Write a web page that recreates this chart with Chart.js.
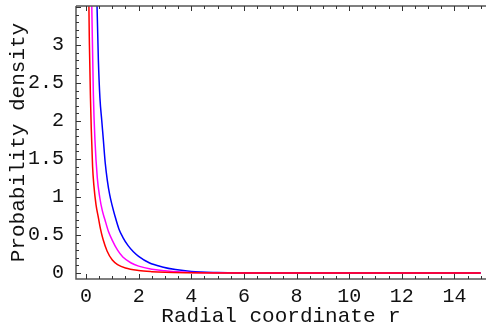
<!DOCTYPE html>
<html>
<head>
<meta charset="utf-8">
<script src="https://cdn.jsdelivr.net/npm/chart.js@4/dist/chart.umd.min.js"></script>
<style>
  html, body { margin: 0; padding: 0; background: #fff; }
  #wrap { width: 486px; height: 331px; }
</style>
</head>
<body>
<div id="wrap"><canvas id="c"></canvas></div>
<script>
// values (r, density)
const redR  = [0.06, 0.10, 0.13, 0.17, 0.20, 0.25, 0.30, 0.38, 0.47, 0.55, 0.65, 0.80, 1.00, 1.20, 1.50, 2.00, 2.50, 3.00, 4.00, 5.00, 6.00, 15];
const redY  = [6.0, 3.8, 3.0, 2.3, 1.9, 1.4, 1.15, 0.9, 0.73, 0.58, 0.44, 0.29, 0.17, 0.11, 0.065, 0.033, 0.018, 0.01, 0.004, 0.001, 0, 0];

const magR  = [0.15, 0.20, 0.23, 0.28, 0.34, 0.43, 0.52, 0.62, 0.72, 0.85, 1.00, 1.20, 1.40, 1.70, 2.00, 2.50, 3.00, 3.50, 4.00, 5.00, 6.00, 15];
const magY  = [6.0, 4.0, 3.3, 2.35, 1.75, 1.25, 1.0, 0.82, 0.7, 0.55, 0.43, 0.3, 0.21, 0.135, 0.09, 0.05, 0.03, 0.015, 0.008, 0.002, 0, 0];

const blueR = [0.33, 0.38, 0.42, 0.47, 0.53, 0.60, 0.66, 0.73, 0.81, 0.90, 1.00, 1.10, 1.25, 1.40, 1.60, 1.80, 2.00, 2.40, 2.90, 3.40, 4.00, 5.00, 6.00, 7.00, 15];
const blueY = [6.0, 4.3, 3.5, 2.8, 2.3, 2.0, 1.75, 1.45, 1.22, 1.03, 0.88, 0.75, 0.58, 0.47, 0.36, 0.28, 0.22, 0.135, 0.08, 0.045, 0.02, 0.006, 0.001, 0, 0];

const xTicks = [0, 2, 4, 6, 8, 10, 12, 14];
const yTicks = [0, 0.5, 1, 1.5, 2, 2.5, 3];

function pts(rs, ys) {
    return rs.map((r, i) => ({ x: r, y: ys[i] }));
}

const mono = "'Liberation Mono', 'Courier New', monospace";

// Mathematica style frame: left, bottom and top, ticks pointing inside
const framePlugin = {
    id: 'frame',
    afterDatasetsDraw(chart) {
        const { ctx, chartArea: a, scales: { x, y } } = chart;
        ctx.save();
        ctx.strokeStyle = '#555';
        ctx.lineWidth = 1.5;
        ctx.beginPath();
        ctx.moveTo(a.left, a.top);
        ctx.lineTo(a.right, a.top);
        ctx.moveTo(a.left, a.top);
        ctx.lineTo(a.left, a.bottom);
        ctx.lineTo(a.right, a.bottom);
        ctx.stroke();

        ctx.lineWidth = 1;
        ctx.strokeStyle = '#333';
        ctx.beginPath();
        for (let i = 0; i <= 30; i++) {
            const v = i * 0.5;
            const px = Math.round(x.getPixelForValue(v)) + 0.5;
            const len = i % 4 === 0 ? 5 : 3;
            ctx.moveTo(px, a.bottom);
            ctx.lineTo(px, a.bottom - len);
            ctx.moveTo(px, a.top);
            ctx.lineTo(px, a.top + len);
        }
        for (let i = 0; i <= 35; i++) {
            const v = i * 0.1;
            const py = Math.round(y.getPixelForValue(v)) + 0.5;
            const len = i % 5 === 0 ? 5 : 3;
            ctx.moveTo(a.left, py);
            ctx.lineTo(a.left + len, py);
        }
        ctx.stroke();
        ctx.restore();
    }
};

new Chart(document.getElementById('c'), {
    type: 'scatter',
    data: {
        datasets: [
            { label: 'red', data: pts(redR, redY), borderColor: '#ff0000' },
            { label: 'magenta', data: pts(magR, magY), borderColor: '#ff00ff' },
            { label: 'blue', data: pts(blueR, blueY), borderColor: '#0000ff' }
        ]
    },
    options: {
        responsive: true,
        maintainAspectRatio: false,
        animation: false,
        layout: { padding: { top: 6, right: 0, left: 0, bottom: 0 } },
        datasets: {
            scatter: {
                showLine: true,
                pointRadius: 0,
                borderWidth: 1.5,
                cubicInterpolationMode: 'monotone',
                clip: 0
            }
        },
        plugins: { legend: { display: false }, tooltip: { enabled: false } },
        scales: {
            x: {
                type: 'linear',
                min: -0.38,
                max: 15.2,
                grid: { display: false },
                border: { display: false },
                afterBuildTicks: s => { s.ticks = xTicks.map(v => ({ value: v })); },
                afterFit: s => { s.height = 52; s.paddingLeft = 0; s.paddingRight = 0; },
                ticks: {
                    padding: -2,
                    color: '#111',
                    font: { family: mono, size: 20 },
                    callback: v => String(v)
                },
                title: {
                    display: true,
                    text: 'Radial coordinate r',
                    color: '#111',
                    font: { family: mono, size: 21 },
                    padding: { top: 0, bottom: 2 }
                }
            },
            y: {
                type: 'linear',
                min: -0.079,
                max: 3.513,
                grid: { display: false },
                border: { display: false },
                afterBuildTicks: s => { s.ticks = yTicks.map(v => ({ value: v })); },
                afterFit: s => { s.width = 76; s.paddingTop = 0; s.paddingBottom = 0; },
                ticks: {
                    padding: 4,
                    color: '#111',
                    font: { family: mono, size: 20 },
                    callback: v => String(v)
                },
                title: {
                    display: true,
                    text: 'Probability density',
                    color: '#111',
                    font: { family: mono, size: 21 },
                    padding: { top: 6, bottom: 0 }
                }
            }
        }
    },
    plugins: [framePlugin]
});
</script>
</body>
</html>
